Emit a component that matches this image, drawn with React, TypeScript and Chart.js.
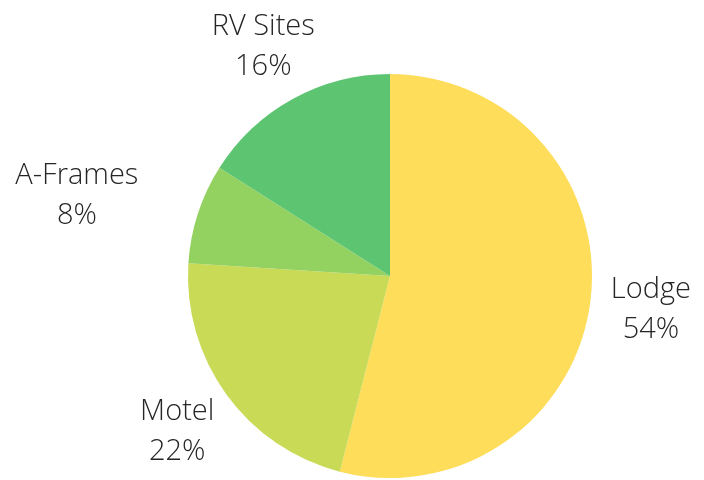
import React, { useEffect, useRef } from "react";
import { Chart, registerables } from "chart.js";

Chart.register(...registerables);

const categories = ["Lodge", "Motel", "A-Frames", "RV Sites"];
const values = [54, 22, 8, 16];
const colors = ["#FDDD59", "#C8DA56", "#93D160", "#5DC571"];

const outerLabels = {
  id: "outerLabels",
  afterDraw(chart: any) {
    const ctx = chart.ctx;
    const meta = chart.getDatasetMeta(0);
    const data = chart.data.datasets[0].data as number[];
    const total = data.reduce((a: number, b: number) => a + b, 0);
    ctx.save();
    ctx.font = "300 29px 'Open Sans'";
    ctx.fillStyle = "#262626";
    ctx.textAlign = "center";
    ctx.textBaseline = "middle";
    meta.data.forEach((arc: any, i: number) => {
      const p = arc.getProps(["x", "y", "startAngle", "endAngle", "outerRadius"], true);
      const mid = (p.startAngle + p.endAngle) / 2;
      const r = p.outerRadius + 61;
      let cx = p.x + Math.cos(mid) * r;
      const cy = p.y + Math.sin(mid) * r + 1;
      const w = ctx.measureText(String(chart.data.labels[i])).width;
      // push labels outward if they would crowd the pie
      const edgeX = Math.cos(mid) < 0 ? cx + w / 2 : cx - w / 2;
      const dx = edgeX - p.x;
      const dy = cy - p.y;
      const clear = Math.sqrt(dx * dx + dy * dy) - p.outerRadius;
      if (clear < 10) {
        cx += Math.sign(Math.cos(mid)) * (66 - clear);
      }
      const pct = Math.round((data[i] / total) * 100) + "%";
      ctx.fillText(String(chart.data.labels[i]), cx, cy - 20);
      ctx.fillText(pct, cx, cy + 20);
    });
    ctx.restore();
  },
};

export default function App() {
  const ref = useRef<HTMLCanvasElement>(null);
  useEffect(() => {
    const chart = new Chart(ref.current!, {
      type: "pie",
      data: {
        labels: categories,
        datasets: [
          {
            data: values,
            backgroundColor: colors,
            borderWidth: 0,
          },
        ],
      },
      options: {
        responsive: true,
        maintainAspectRatio: false,
        animation: false,
        layout: { padding: { left: 170, right: 94, top: 74, bottom: 2 } },
        plugins: {
          legend: { display: false },
          tooltip: { enabled: false },
        },
      },
      plugins: [outerLabels],
    });
    return () => chart.destroy();
  }, []);
  return (
    <div style={{ position: "fixed", left: 0, top: 0, width: 704, height: 480, background: "#fff" }}>
      <canvas ref={ref} />
    </div>
  );
}
